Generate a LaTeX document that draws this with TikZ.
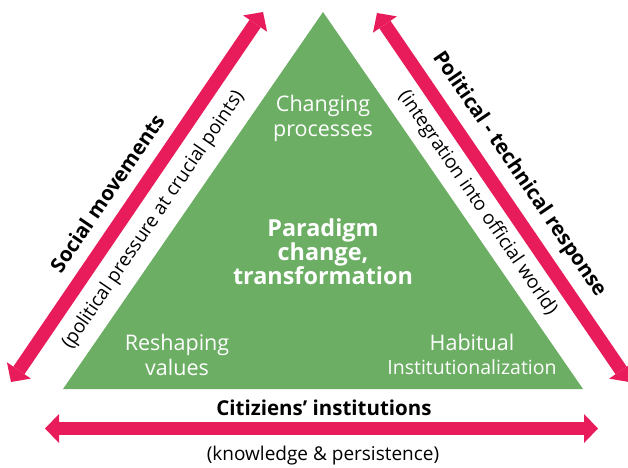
\documentclass[tikz,border=0pt]{standalone}
\usepackage{fontspec}
\setmainfont{Open Sans}
\usetikzlibrary{arrows.meta}
\definecolor{tgreen}{RGB}{108,174,100}
\definecolor{tpink}{RGB}{232,28,90}
\begin{document}
\begin{tikzpicture}[x=1pt,y=-1pt,
  pinktip/.tip={Triangle[width=29pt,length=14pt,line width=0pt]},
  bigarrow/.style={draw=tpink, line width=13.5pt, pinktip-pinktip},
  wtext/.style={text=white, align=center, font=\fontsize{21.5}{25}\selectfont, inner sep=0pt},
  wbold/.style={text=white, align=center, font=\fontsize{23.4}{24}\selectfont\bfseries, inner sep=0pt},
  btext/.style={text=black, font=\fontsize{20.5}{24}\selectfont\bfseries, inner sep=0pt},
  ntext/.style={text=black, font=\fontsize{19}{20}\selectfont, inner sep=0pt}]
\useasboundingbox (0,0) rectangle (628,467);
% triangle
\coordinate (T) at (323,12);
\coordinate (BL) at (63,389);
\coordinate (BR) at (583,389);
\fill[tgreen] (T) -- (BL) -- (BR) -- cycle;
% arrows
\coordinate (LA1) at (11,382);
\coordinate (LA2) at (263,12);
\coordinate (RA1) at (377,13);
\coordinate (RA2) at (629,382);
\coordinate (BA1) at (45,428.5);
\coordinate (BA2) at (598,428.5);
\draw[bigarrow] (LA1) -- (LA2);
\draw[bigarrow] (RA1) -- (RA2);
\draw[bigarrow] (BA1) -- (BA2);
% triangle texts
\node[wtext] (chg) at (323,118) {Changing\\processes};
\node[wbold] (par) at (323,252) {Paradigm\\change,\\transformation};
\node[wtext] (resh) at (177,355) {Reshaping\\values};
\node[wtext] (hab) at (472,342) {Habitual};
\node[wtext, font=\fontsize{19.5}{20}\selectfont] (inst) at (472,367) {Institutionalization};
% side texts
\node[btext, rotate=55.7] (soc) at (107,193) {Social movements};
\node[ntext, rotate=55.7] (pol) at (153.5,220) {(political pressure at crucial points)};
\node[btext, rotate=-55.7] (ptr) at (519,174.5) {Political - technical response};
\node[ntext, rotate=-55.7] (int) at (477.5,203) {(integration into official world)};
% bottom texts
\node[btext] (cit) at (324,408) {Citiziens’ institutions};
\node[ntext] (kn) at (323,456) {(knowledge \& persistence)};
\end{tikzpicture}
\end{document}
